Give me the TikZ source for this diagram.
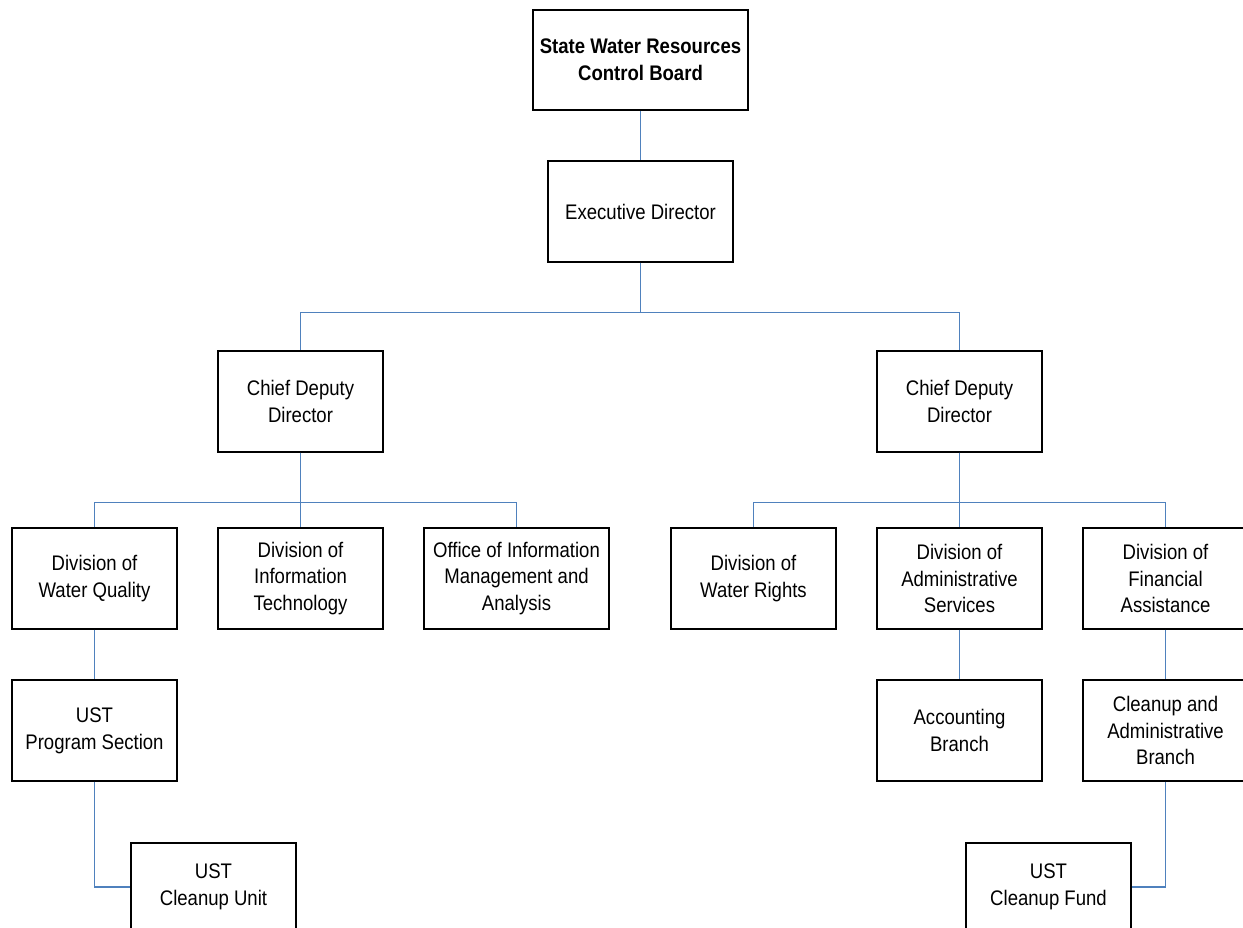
\documentclass[tikz,border=0pt]{standalone}
\usepackage{fontspec}
\setmainfont{Liberation Sans}[FakeStretch=0.88]
\usepackage{tikz}
\definecolor{linkblue}{RGB}{79,129,189}

\begin{document}
\begin{tikzpicture}[x=0.02cm, y=-0.02cm,
    every node/.style={font=\fontsize{12pt}{15.3pt}\selectfont},
    box/.style={draw, line width=0.8pt, align=center, inner sep=0pt,
                minimum width=3.3cm, minimum height=2.02cm},
    widebox/.style={box, minimum width=3.7cm},
    link/.style={draw=linkblue, line width=0.8pt}]
    \useasboundingbox (0,0) rectangle (1243,927);
    \clip (0,0) rectangle (1243,927);

    \node[box, minimum width=4.3cm, minimum height=2cm] (board) at (640.5,60)
        {\textbf{State Water Resources}\\\textbf{Control Board}};
    \node[widebox] (exec) at (640.5,211.5) {Executive Director};
    \node[box] (cddL) at (300.5,401.5) {Chief Deputy\\Director};
    \node[box] (cddR) at (959.5,401.5) {Chief Deputy\\Director};

    \node[box] (dwq)  at (94.5,578.5)   {Division of\\Water Quality};
    \node[box] (dit)  at (300.5,578.5)  {Division of\\Information\\Technology};
    \node[widebox] (oima) at (516.5,578.5) {Office of Information\\Management and\\Analysis};
    \node[box] (dwr)  at (753.5,578.5)  {Division of\\Water Rights};
    \node[box] (das)  at (959.5,578.5)  {Division of\\Administrative\\Services};
    \node[box] (dfa)  at (1165.5,578.5) {Division of\\Financial\\Assistance};

    \node[box] (ustps) at (94.5,730.5)   {UST\\Program Section};
    \node[box] (acct)  at (959.5,730.5)  {Accounting\\Branch};
    \node[box] (cab)   at (1165.5,730.5) {Cleanup and\\Administrative\\Branch};

    \node[box, minimum height=1.76cm] (ustcu) at (213.5,887)  {UST\\Cleanup Unit};
    \node[box, minimum height=1.76cm] (ustcf) at (1048.5,887) {UST\\Cleanup Fund};

    \draw[link] (board.south) -- (exec.north);
    \draw[link] (exec.south) -- ++(0,50) -| (cddL.north);
    \draw[link] (exec.south) -- ++(0,50) -| (cddR.north);

    \draw[link] (cddL.south) -- ++(0,50) -| (dwq.north);
    \draw[link] (cddL.south) -- (dit.north);
    \draw[link] (cddL.south) -- ++(0,50) -| (oima.north);
    \draw[link] (cddR.south) -- ++(0,50) -| (dwr.north);
    \draw[link] (cddR.south) -- (das.north);
    \draw[link] (cddR.south) -- ++(0,50) -| (dfa.north);

    \draw[link] (dwq.south) -- (ustps.north);
    \draw[link] (das.south) -- (acct.north);
    \draw[link] (dfa.south) -- (cab.north);
    \draw[link] (ustps.south) |- (ustcu.west);
    \draw[link] (cab.south) |- (ustcf.east);
\end{tikzpicture}
\end{document}
